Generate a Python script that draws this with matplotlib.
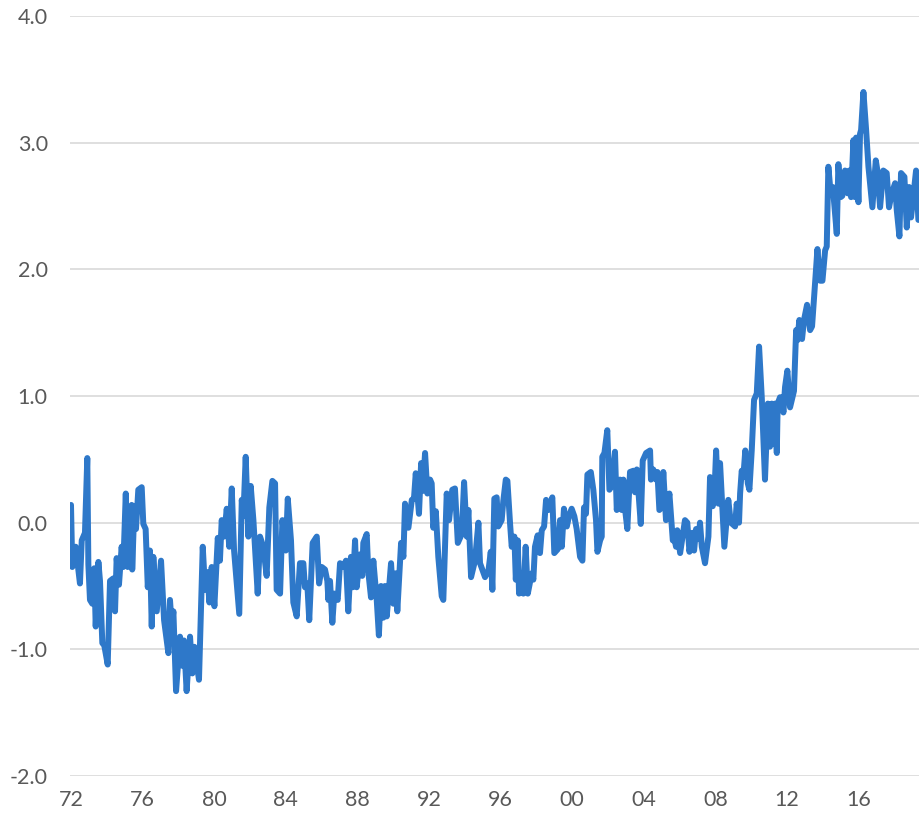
import matplotlib.pyplot as plt

# decimal years and index values
years = [
    1972.00, 1972.07, 1972.26, 1972.50, 1972.60, 1972.78, 1972.91, 1972.97,
    1973.06, 1973.19, 1973.30, 1973.38, 1973.53, 1973.62, 1973.75, 1973.86,
    1974.05, 1974.18, 1974.36, 1974.46, 1974.55, 1974.68, 1974.83, 1974.92,
    1975.06, 1975.17, 1975.39, 1975.42, 1975.54, 1975.63, 1975.76, 1975.95,
    1976.04, 1976.17, 1976.29, 1976.41, 1976.51, 1976.60, 1976.79, 1977.03,
    1977.20, 1977.44, 1977.53, 1977.63, 1977.72, 1977.87, 1978.09, 1978.22,
    1978.31, 1978.46, 1978.65, 1978.78, 1978.89, 1979.15, 1979.36, 1979.49,
    1979.62, 1979.73, 1979.86, 1980.01, 1980.20, 1980.32, 1980.42, 1980.55,
    1980.70, 1980.84, 1980.98, 1981.11, 1981.40, 1981.54, 1981.63, 1981.76,
    1981.91, 1982.04, 1982.19, 1982.43, 1982.56, 1982.74, 1982.93, 1983.08,
    1983.25, 1983.40, 1983.49, 1983.68, 1983.81, 1984.00, 1984.11, 1984.29,
    1984.42, 1984.61, 1984.79, 1984.98, 1985.07, 1985.20, 1985.31, 1985.50,
    1985.73, 1985.86, 1986.01, 1986.19, 1986.32, 1986.38, 1986.47, 1986.60,
    1986.71, 1986.90, 1987.03, 1987.21, 1987.36, 1987.49, 1987.64, 1987.74,
    1987.87, 1987.96, 1988.15, 1988.27, 1988.33, 1988.52, 1988.61, 1988.76,
    1988.89, 1989.08, 1989.20, 1989.32, 1989.45, 1989.54, 1989.64, 1989.88,
    1990.01, 1990.14, 1990.23, 1990.44, 1990.57, 1990.66, 1990.85, 1991.04,
    1991.16, 1991.26, 1991.44, 1991.56, 1991.65, 1991.78, 1991.91, 1992.06,
    1992.15, 1992.24, 1992.38, 1992.52, 1992.71, 1992.80, 1992.99, 1993.12,
    1993.30, 1993.45, 1993.61, 1993.83, 1993.96, 1994.11, 1994.20, 1994.35,
    1994.57, 1994.76, 1994.85, 1995.13, 1995.32, 1995.45, 1995.54, 1995.65,
    1995.78, 1995.87, 1996.06, 1996.15, 1996.29, 1996.38, 1996.53, 1996.62,
    1996.77, 1996.85, 1996.96, 1997.03, 1997.14, 1997.27, 1997.40, 1997.52,
    1997.74, 1997.83, 1997.92, 1998.07, 1998.20, 1998.30, 1998.43, 1998.54,
    1998.67, 1998.89, 1999.00, 1999.19, 1999.32, 1999.42, 1999.54, 1999.70,
    1999.82, 1999.97, 2000.12, 2000.25, 2000.44, 2000.57, 2000.66, 2000.77,
    2000.85, 2001.04, 2001.18, 2001.33, 2001.41, 2001.56, 2001.65, 2001.68,
    2001.80, 2001.96, 2002.08, 2002.21, 2002.39, 2002.49, 2002.67, 2002.77,
    2002.86, 2002.95, 2003.08, 2003.23, 2003.42, 2003.51, 2003.61, 2003.83,
    2003.94, 2004.13, 2004.35, 2004.40, 2004.53, 2004.68, 2004.76, 2004.87,
    2005.00, 2005.09, 2005.24, 2005.43, 2005.62, 2005.69, 2005.80, 2005.87,
    2006.03, 2006.30, 2006.43, 2006.55, 2006.71, 2006.81, 2006.92, 2007.05,
    2007.14, 2007.24, 2007.42, 2007.61, 2007.70, 2007.85, 2007.94, 2008.04,
    2008.17, 2008.26, 2008.50, 2008.72, 2008.86, 2009.10, 2009.19, 2009.32,
    2009.38, 2009.47, 2009.56, 2009.67, 2009.81, 2009.90, 2010.03, 2010.16,
    2010.31, 2010.44, 2010.59, 2010.77, 2010.93, 2011.05, 2011.15, 2011.24,
    2011.33, 2011.43, 2011.48, 2011.61, 2011.71, 2011.80, 2011.89, 2012.02,
    2012.17, 2012.39, 2012.51, 2012.58, 2012.69, 2012.84, 2012.95, 2013.12,
    2013.29, 2013.40, 2013.70, 2013.85, 2013.98, 2014.13, 2014.22, 2014.31,
    2014.44, 2014.56, 2014.78, 2014.87, 2015.00, 2015.09, 2015.24, 2015.39,
    2015.48, 2015.58, 2015.71, 2015.80, 2015.86, 2015.99, 2016.08, 2016.14,
    2016.27, 2016.42, 2016.55, 2016.77, 2016.96, 2017.05, 2017.20, 2017.38,
    2017.57, 2017.70, 2017.85, 2018.04, 2018.13, 2018.28, 2018.37, 2018.56,
    2018.69, 2018.82, 2018.93, 2019.21, 2019.34,
]
values = [
    0.14, -0.35, -0.19, -0.48, -0.14, -0.08, 0.51, -0.33,
    -0.61, -0.64, -0.36, -0.82, -0.31, -0.46, -0.95, -0.97,
    -1.12, -0.46, -0.44, -0.70, -0.28, -0.49, -0.19, -0.35,
    0.23, -0.35, 0.14, -0.37, 0.13, -0.05, 0.26, 0.28,
    -0.01, -0.05, -0.51, -0.22, -0.82, -0.27, -0.70, -0.30,
    -0.77, -1.03, -0.61, -0.82, -0.70, -1.33, -0.90, -1.13,
    -0.93, -1.33, -0.90, -1.19, -0.98, -1.24, -0.19, -0.53,
    -0.39, -0.63, -0.35, -0.66, -0.12, -0.30, 0.02, -0.11,
    0.11, -0.19, 0.27, -0.22, -0.72, 0.18, 0.05, 0.52,
    -0.11, 0.29, 0.02, -0.56, -0.11, -0.19, -0.42, 0.12,
    0.33, 0.31, -0.53, -0.56, 0.02, -0.22, 0.19, -0.14,
    -0.63, -0.74, -0.32, -0.32, -0.51, -0.48, -0.77, -0.16,
    -0.11, -0.48, -0.35, -0.37, -0.46, -0.61, -0.46, -0.79,
    -0.56, -0.61, -0.32, -0.35, -0.30, -0.70, -0.27, -0.51,
    -0.14, -0.51, -0.25, -0.42, -0.16, -0.09, -0.39, -0.59,
    -0.30, -0.61, -0.89, -0.50, -0.75, -0.50, -0.74, -0.32,
    -0.64, -0.40, -0.70, -0.16, -0.27, 0.15, -0.04, 0.18,
    0.19, 0.39, 0.07, 0.47, 0.25, 0.55, 0.23, 0.34,
    0.31, -0.04, 0.09, -0.27, -0.58, -0.61, 0.23, 0.02,
    0.26, 0.27, -0.16, -0.09, 0.32, -0.11, 0.10, -0.43,
    -0.30, 0.00, -0.32, -0.43, -0.38, -0.23, -0.53, 0.19,
    0.20, -0.03, 0.02, 0.17, 0.34, 0.33, -0.01, -0.19,
    -0.11, -0.45, -0.14, -0.56, -0.40, -0.56, -0.19, -0.56,
    -0.40, -0.45, -0.19, -0.10, -0.24, -0.06, -0.03, 0.18,
    0.10, 0.20, -0.24, -0.21, 0.02, -0.19, 0.11, -0.03,
    0.05, 0.11, 0.05, -0.05, -0.27, -0.30, 0.12, 0.07,
    0.38, 0.40, 0.26, 0.02, -0.23, -0.14, -0.11, 0.52,
    0.55, 0.73, 0.26, 0.29, 0.56, 0.10, 0.34, 0.10,
    0.34, 0.11, -0.05, 0.40, 0.41, 0.24, 0.42, -0.01,
    0.49, 0.55, 0.57, 0.34, 0.42, 0.34, 0.40, 0.10,
    0.12, 0.40, 0.02, 0.23, -0.14, -0.11, -0.19, -0.06,
    -0.24, 0.02, 0.00, -0.23, -0.08, -0.22, -0.05, -0.13,
    0.00, -0.19, -0.32, -0.11, 0.36, 0.13, 0.21, 0.57,
    0.15, 0.47, -0.19, 0.18, 0.00, -0.03, 0.15, 0.00,
    0.23, 0.41, 0.36, 0.57, 0.31, 0.26, 0.57, 0.97,
    1.02, 1.39, 0.99, 0.34, 0.94, 0.60, 0.94, 0.62,
    0.94, 0.55, 0.94, 0.99, 0.99, 0.87, 1.07, 1.20,
    0.91, 1.04, 1.52, 1.44, 1.60, 1.45, 1.60, 1.72,
    1.52, 1.55, 2.16, 1.91, 1.91, 2.15, 2.18, 2.81,
    2.60, 2.65, 2.28, 2.83, 2.57, 2.58, 2.78, 2.60,
    2.78, 2.57, 3.02, 2.57, 3.04, 2.53, 3.07, 3.10,
    3.40, 3.10, 2.81, 2.49, 2.86, 2.78, 2.49, 2.78,
    2.76, 2.49, 2.60, 2.68, 2.47, 2.26, 2.76, 2.73,
    2.33, 2.65, 2.41, 2.78, 2.39,
]
tick_years = list(range(1972, 2017, 4))
tick_labels = [f"{y % 100:02d}" for y in tick_years]
y_ticks = [-2.0, -1.0, 0.0, 1.0, 2.0, 3.0, 4.0]

plt.rcParams['font.family'] = ['Lato', 'DejaVu Sans']

fig = plt.figure(figsize=(9.19, 8.23), dpi=100)
ax = fig.add_axes([70 / 919, 47 / 823, 849 / 919, 760 / 823])

ax.plot(years, values, color='#2E78C9', linewidth=4.3,
        solid_joinstyle='round', solid_capstyle='round', zorder=3)

ax.set_ylim(-2, 4)
ax.set_xlim(1972 - 1 / 17.9, 1972 + 848 / 17.9)
ax.set_yticks(y_ticks)
ax.set_yticklabels([f"{v:.1f}" for v in y_ticks])
ax.set_xticks(tick_years)
ax.set_xticklabels(tick_labels)

ax.grid(axis='y', color='#D9D9D9', linewidth=1.2)
ax.set_axisbelow(True)
for s in ax.spines.values():
    s.set_visible(False)
ax.tick_params(axis='y', length=0, pad=16, labelsize=15.5, labelcolor='#595959')
ax.tick_params(axis='x', length=0, pad=10, labelsize=15.5, labelcolor='#595959')

fig.savefig('out.png', dpi=100)
